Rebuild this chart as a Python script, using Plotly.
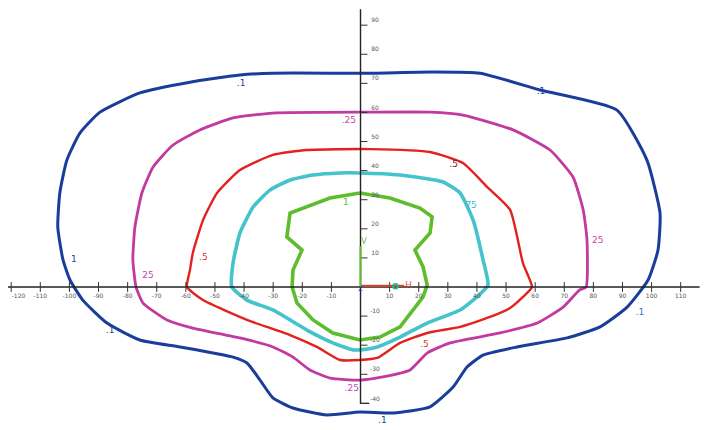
import plotly.graph_objects as go

# Isodose curves (data units)
blue_x = [3.3, 23.9, 41.1, 61.7, 88.1, 98.4, 102.9, 102.2, 98.8, 91.6, 82.3, 71.0, 53.8, 42.1, 36.6, 31.8, 23.9, 11.2, -0.2, -11.5, -23.2, -30.1, -34.5, -39.0, -43.8, -62.0, -75.8, -87.1, -95.4, -99.8, -102.2, -104.0, -103.3, -100.9, -96.4, -89.5, -75.8, -58.6, -41.4, -30.1, 3.3]
blue_y = [73.5, 73.9, 73.5, 67.7, 60.8, 43.6, 25.4, 12.7, 2.4, -6.9, -13.7, -17.5, -20.6, -23.4, -27.5, -34.4, -41.2, -43.3, -43.0, -44.0, -41.6, -38.1, -32.0, -26.1, -24.1, -20.6, -18.2, -12.4, -4.5, 2.4, 9.3, 20.6, 32.3, 43.6, 52.9, 60.1, 66.7, 70.4, 72.9, 73.5, 73.5]

magenta_x = [3.3, 23.9, 35.2, 52.4, 65.1, 73.0, 76.5, 77.8, 77.5, 75.3, 69.6, 60.7, 47.9, 30.8, 22.9, 17.0, 7.7, -0.2, -10.5, -17.4, -23.2, -30.1, -41.4, -57.6, -66.5, -74.7, -77.1, -78.2, -77.5, -75.1, -71.3, -64.4, -55.2, -43.8, -30.1, 3.3]
magenta_y = [60.1, 60.1, 59.1, 54.0, 47.1, 37.8, 26.5, 16.2, 0.0, -1.0, -6.9, -12.4, -15.8, -19.2, -22.7, -28.5, -30.9, -32.0, -31.3, -28.5, -24.1, -20.6, -17.5, -14.1, -11.3, -5.5, 0.0, 9.3, 20.6, 32.3, 41.2, 48.8, 54.0, 58.1, 59.8, 60.1]

red_x = [3.3, 23.9, 35.2, 43.5, 51.4, 55.8, 58.9, 55.8, 51.4, 44.5, 34.2, 22.9, 13.6, 5.7, -0.2, -7.0, -15.0, -24.2, -39.0, -54.1, -59.6, -58.6, -57.6, -54.1, -49.3, -41.4, -30.1, -18.4, 3.3]
red_y = [47.4, 46.4, 42.6, 34.4, 26.5, 8.2, 0.0, -3.4, -7.2, -10.3, -13.7, -15.8, -19.2, -24.4, -25.1, -25.1, -20.6, -16.5, -11.3, -4.5, 0.0, 5.8, 11.7, 23.0, 32.3, 40.2, 45.4, 47.1, 47.4]

cyan_x = [-0.2, 13.6, 28.4, 34.2, 38.7, 42.1, 43.8, 40.0, 34.2, 22.9, 13.6, 5.7, -0.2, -2.6, -9.5, -18.4, -30.1, -39.0, -44.2, -43.8, -41.4, -36.9, -31.1, -24.2, -16.3, -7.0, -0.2]
cyan_y = [39.2, 38.5, 36.1, 32.3, 23.0, 9.3, 0.7, -3.4, -7.9, -12.4, -17.2, -20.6, -21.6, -21.6, -19.2, -14.8, -7.9, -4.5, 0.0, 8.2, 18.6, 27.5, 33.3, 36.8, 38.5, 39.2, 39.2]

green_x = [-0.2, 10.1, 20.4, 24.6, 23.9, 18.7, 21.5, 22.9, 21.5, 18.0, 13.6, 6.7, -0.2, -9.5, -16.3, -21.8, -23.5, -23.2, -20.1, -25.3, -24.2, -10.5, -0.2]
green_y = [32.3, 30.6, 27.1, 24.1, 18.6, 12.7, 6.9, 0.7, -3.4, -7.9, -13.7, -17.2, -18.2, -15.8, -11.3, -5.5, 0.0, 5.8, 12.7, 17.2, 25.4, 30.6, 32.3]

# Tick values / labels
x_ticks = [-120, -110, -100, -90, -80, -70, -60, -50, -40, -30, -20, -10, 10, 20, 30, 40, 50, 60, 70, 80, 90, 100, 110]
y_ticks = [10, 20, 30, 40, 50, 60, 70, 80, 90, -10, -20, -30, -40]

# Curve labels
lbl_text = [".1", "1", ".1", ".1", ".1", ".1", ".25", "25", "25", ".25", ".5", ".5", ".5", "75", "1"]
lbl_x = [-41.0, -98.5, -86.0, 96.0, 7.5, 62.0, -4.0, -73.0, 81.5, -3.0, -54.0, 32.0, 22.0, 38.0, -5.0]
lbl_y = [70.0, 9.5, -15.0, -9.0, -46.0, 67.0, 57.0, 4.0, 16.0, -35.0, 10.0, 42.0, -20.0, 28.0, 29.0]
lbl_col = ["#1c3f9e", "#1c3f9e", "#1c3f9e", "#3a6fd0", "#1c3f9e", "#1c3f9e",
           "#c04aa8", "#c04aa8", "#c04aa8", "#c04aa8",
           "#e0302a", "#802020", "#e0302a", "#3fb8c8", "#5cbf2a"]

fig = go.Figure()

curves = [
    (blue_x, blue_y, "#1a3d9c", 3.0, "spline"),
    (magenta_x, magenta_y, "#c2399f", 2.8, "spline"),
    (red_x, red_y, "#e2221e", 2.4, "spline"),
    (cyan_x, cyan_y, "#45c3cc", 3.6, "spline"),
    (green_x, green_y, "#5ebd2c", 3.6, "linear"),
]
for cx, cy, col, w, shp in curves:
    ln = dict(color=col, width=w, shape=shp)
    if shp == "spline":
        ln["smoothing"] = 0.5
    fig.add_trace(go.Scatter(x=cx, y=cy, mode="lines", line=ln, hoverinfo="skip"))

# axes
fig.add_trace(go.Scatter(x=[-122, 116.5], y=[0, 0], mode="lines",
                         line=dict(color="#222", width=1.4), hoverinfo="skip"))
fig.add_trace(go.Scatter(x=[0, 0, 3], y=[95.5, -40, -40], mode="lines",
                         line=dict(color="#222", width=1.4), hoverinfo="skip"))

# x tick marks and labels
fig.add_trace(go.Scatter(x=x_ticks, y=[0] * len(x_ticks), mode="markers",
                         marker=dict(symbol="line-ns", size=7,
                                     line=dict(color="#333", width=1)),
                         hoverinfo="skip"))
x_lbl_pos = [max(v, -117.5) for v in x_ticks]
fig.add_trace(go.Scatter(x=x_lbl_pos, y=[-3.2] * len(x_ticks), mode="text",
                         text=[str(v) for v in x_ticks],
                         textfont=dict(size=6, color="#555", family="DejaVu Sans"),
                         hoverinfo="skip"))
# y tick marks and labels
fig.add_trace(go.Scatter(x=[1.2] * len(y_ticks), y=y_ticks, mode="markers",
                         marker=dict(symbol="line-ew", size=5,
                                     line=dict(color="#333", width=1)),
                         hoverinfo="skip"))
fig.add_trace(go.Scatter(x=[5.0] * len(y_ticks), y=[v + 1.5 for v in y_ticks], mode="text",
                         text=[str(v) for v in y_ticks],
                         textfont=dict(size=6, color="#555", family="DejaVu Sans"),
                         hoverinfo="skip"))

# beam direction markers
fig.add_trace(go.Scatter(x=[0, 15], y=[0.4, 0.4], mode="lines",
                         line=dict(color="#e04030", width=2), hoverinfo="skip"))
fig.add_trace(go.Scatter(x=[12], y=[0.3], mode="markers",
                         marker=dict(symbol="circle-open", size=5,
                                     line=dict(color="#e04030", width=1.5)),
                         hoverinfo="skip"))
fig.add_trace(go.Scatter(x=[16.5], y=[0.3], mode="text", text=["H"],
                         textfont=dict(size=9, color="#e04030"), hoverinfo="skip"))
fig.add_trace(go.Scatter(x=[0, 0], y=[0, 14], mode="lines",
                         line=dict(color="#5ebd2c", width=2), hoverinfo="skip"))
fig.add_trace(go.Scatter(x=[1.2], y=[15.5], mode="text", text=["V"],
                         textfont=dict(size=9, color="#5ebd2c"), hoverinfo="skip"))
fig.add_trace(go.Scatter(x=[0], y=[-0.8], mode="text", text=["Z"],
                         textfont=dict(size=8, color="#2040c0"), hoverinfo="skip"))

# curve labels
fig.add_trace(go.Scatter(x=lbl_x, y=lbl_y, mode="text", text=lbl_text,
                         textfont=dict(size=9, color=lbl_col, family="DejaVu Sans"),
                         hoverinfo="skip"))

# page body has an 8px margin: ranges are set so the origin lands at (360, 287) in the window
fig.update_layout(
    width=712, height=430,
    margin=dict(l=0, r=0, t=0, b=0),
    paper_bgcolor="white", plot_bgcolor="white",
    showlegend=False,
    xaxis=dict(range=[-121.1, 123.5], visible=False, showgrid=False, zeroline=False),
    yaxis=dict(range=[-51.9, 95.9], visible=False, showgrid=False, zeroline=False),
)

fig.write_html("out.html")
